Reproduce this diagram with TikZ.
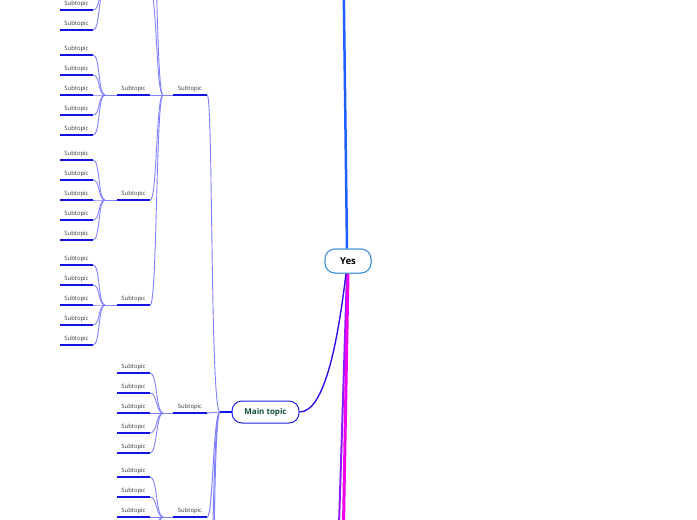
\documentclass[tikz,border=0pt]{standalone}
\usepackage{fontspec}
\setmainfont{Open Sans}
\definecolor{conncol}{HTML}{8080FF}
\definecolor{ulcol}{HTML}{1414E0}
\definecolor{txtcol}{HTML}{333333}
\definecolor{topblue}{HTML}{1F5FFF}
\definecolor{magline}{HTML}{EE00EE}
\definecolor{vioLine}{HTML}{8C1AFF}
\definecolor{curveblue}{HTML}{2B14E6}
\definecolor{yesborder}{HTML}{3D8FD6}
\definecolor{mainborder}{HTML}{2020E0}
\definecolor{maintext}{HTML}{0F4D3C}
\begin{document}
\begin{tikzpicture}[x=1pt,y=-1pt,
  conn/.style={draw=conncol, line width=0.9pt},
  uline/.style={draw=ulcol, line width=1.5pt},
  lbl/.style={font=\fontsize{5.9}{6}\selectfont, text=txtcol, inner xsep=0pt, inner ysep=2.6pt, anchor=south, minimum width=33pt},
  mainbox/.style={draw=mainborder, line width=1pt, rounded corners=10pt, minimum width=67pt, minimum height=22pt, inner sep=0pt, font=\fontsize{8}{9}\selectfont\bfseries, text=maintext, fill=white},
  yesbox/.style={draw=yesborder, line width=1pt, rounded corners=10pt, minimum width=46pt, minimum height=24pt, inner sep=0pt, font=\fontsize{9.5}{10}\selectfont\bfseries, text=black, fill=white}
]
\useasboundingbox (0,0) rectangle (697,520);
\clip (0,0) rectangle (697,520);

% main junction and level-2 junctions
\coordinate (jm) at (220,412);
\coordinate (j2a) at (163,95);
\coordinate (j2b) at (163,413);
\coordinate (j2c) at (163,517);

% top group, mostly above the picture
\coordinate (ma) at (150,-10);
\coordinate (ja) at (105,-10);
\foreach \i/\yu in {4/10,5/30} {
  \node[lbl] (la\i) at (76.5,\yu) {Subtopic};
  \draw[uline] (la\i.south west) -- (la\i.south east);
  \draw[conn] (la\i.south east) .. controls +(7,0) and +(-7,0) .. (ja);
}
\draw[conn] (ma) .. controls +(7,0) and +(-7,0) .. (j2a);

% upper level-2 branch
\foreach \g/\yc in {b/95, c/200, d/305} {
  \node[lbl] (m\g) at (133.5,\yc) {Subtopic};
  \draw[uline] (m\g.south west) -- (m\g.south east);
  \coordinate (j\g) at (105,\yc);
  \draw[conn] (j\g) -- (m\g.south west);
  \foreach \i/\dy in {1/-40,2/-20,3/0,4/20,5/40} {
    \node[lbl] (l\g\i) at (76.5,{\yc+\dy}) {Subtopic};
    \draw[uline] (l\g\i.south west) -- (l\g\i.south east);
    \draw[conn] (l\g\i.south east) .. controls +(7,0) and +(-7,0) .. (j\g);
  }
  \draw[conn] (m\g.south east) .. controls +(7,0) and +(-7,0) .. (j2a);
}
\coordinate (me) at (150,-115);
\draw[conn] (me) .. controls +(7,0) and +(-7,0) .. (j2a);

\node[lbl, minimum width=34pt] (s2a) at (190,95) {Subtopic};
\draw[uline] (s2a.south west) -- (s2a.south east);
\draw[conn] (j2a) -- (s2a.south west);

% lower level-2 branches
\foreach \g/\yc in {b/413, c/517} {
  \node[lbl, minimum width=34pt] (s2\g) at (190,\yc) {Subtopic};
  \draw[uline] (s2\g.south west) -- (s2\g.south east);
  \draw[conn] (j2\g) -- (s2\g.south west);
}
\foreach \i/\dy in {1/-40,2/-20,3/0,4/20,5/40} {
  \node[lbl] (kb\i) at (133.5,{413+\dy}) {Subtopic};
  \draw[uline] (kb\i.south west) -- (kb\i.south east);
  \draw[conn] (kb\i.south east) .. controls +(7,0) and +(-7,0) .. (j2b);
}
\foreach \i/\dy in {1/-40,2/-20,3/0} {
  \node[lbl] (kc\i) at (133.5,{517+\dy}) {Subtopic};
  \draw[uline] (kc\i.south west) -- (kc\i.south east);
  \draw[conn] (kc\i.south east) .. controls +(7,0) and +(-7,0) .. (j2c);
}
\coordinate (kc4) at (150,537);
\coordinate (kc5) at (150,557);
\draw[conn] (kc4) .. controls +(7,0) and +(-7,0) .. (j2c);
\draw[conn] (kc5) .. controls +(7,0) and +(-7,0) .. (j2c);

\coordinate (o1) at (207,622);
\coordinate (o2) at (207,727);

% connectors to main junction
\draw[conn] (s2a.south east) .. controls +(6,0) and +(-10,0) .. (jm);
\draw[conn, line width=1pt] (s2b.south east) .. controls +(6,0) and +(-7,0) .. (jm);
\draw[conn, line width=1pt] (s2c.south east) .. controls +(6,0) and +(-7,0) .. (jm);
\draw[conn, line width=1pt] (o1) .. controls +(7,0) and +(-8,0) .. (jm);
\draw[conn, line width=1pt] (o2) .. controls +(8,0) and +(-8,0) .. (jm);

% main topic and Yes
\node[mainbox] (mt) at (265.5,412) {Main topic};
\draw[uline] (jm) -- (mt.west);

\node[yesbox] (yes) at (348,261) {Yes};
\coordinate (topend) at (343.8,-5);
\coordinate (vend) at (339,525);
\coordinate (mend) at (343.5,525);
\draw[topblue, line width=2.5pt] (yes.north) ++(-1,0) -- (topend);
\draw[vioLine, line width=2pt] (yes.south) ++(-1,0) -- (vend);
\draw[magline, line width=3pt] (yes.south) -- (mend);
\draw[curveblue, line width=1.4pt] (yes.south) ++(-2,0) .. controls (338,340) and (325,412) .. (mt.east);
\node[yesbox] at (yes) {Yes};
\end{tikzpicture}
\end{document}
